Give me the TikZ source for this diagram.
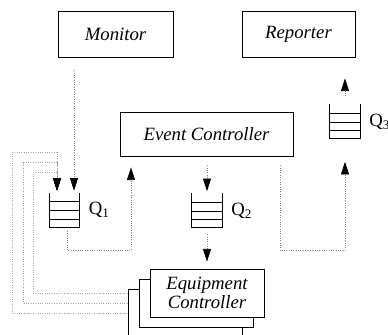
\documentclass[tikz,border=0pt]{standalone}
\usepackage{fontspec}
\setmainfont{Liberation Serif}
\usepackage{tikz}
\usetikzlibrary{arrows.meta,calc,positioning}
\tikzset{
  flow/.style={-{Triangle[length=3.8mm,width=2.4mm,color=black]},line width=0.6pt,
    draw=black!50,dash pattern=on 0.7pt off 1.3pt},
  backflow/.style={flow,draw=black!35},
  unit/.style={draw,line width=0.7pt,fill=white,align=center,inner sep=1pt,
    font=\fontsize{16}{16.5}\selectfont\itshape},
  queue/.style={minimum width=0.9cm,minimum height=1.02cm,inner sep=0pt},
  qlabel/.style={font=\fontsize{16}{19}\selectfont,label distance=1.5mm},
}

\begin{document}
\begin{tikzpicture}[x=0.03cm,y=-0.03cm]
    \useasboundingbox (0,0) rectangle (388,335);
    \clip (0,0) rectangle (388,335);

    \node[unit,minimum width=3.45cm,minimum height=1.38cm] (monitor) at (115.5,34) {Monitor};
    \node[unit,minimum width=3.39cm,minimum height=1.38cm] (reporter) at (298.5,34) {Reporter};
    \node[unit,minimum width=5.19cm,minimum height=1.32cm] (event) at (206.5,134) {Event Controller};

    % equipment controllers, stacked back to front
    \node[unit,minimum width=3.42cm,minimum height=1.44cm] (eqc3) at (185,313) {};
    \node[unit,minimum width=3.42cm,minimum height=1.44cm] (eqc2) at (196,303) {};
    \node[unit,minimum width=3.42cm,minimum height=1.44cm] (eqc) at (207,293) {Equipment\\Controller};

    \node[queue,label={[qlabel]right:Q\textsubscript{1}}] (q1) at (64.5,210) {};
    \node[queue,label={[qlabel]right:Q\textsubscript{2}}] (q2) at (207,210.5) {};
    \node[queue,label={[qlabel]right:Q\textsubscript{3}}] (q3) at (345,121.5) {};

    \foreach \q in {q1,q2,q3}{
      \draw[line width=0.7pt] (\q.north west) -- (\q.south west) -- (\q.south east) -- (\q.north east);
      \foreach \f in {0.265,0.515,0.765}
        \draw[line width=0.7pt] ($(\q.north west)!\f!(\q.south west)$) -- ($(\q.north east)!\f!(\q.south east)$);
    }

    \coordinate (q1r) at ([shift={(9.5,0)}]q1.north);
    \coordinate (q1l) at ([shift={(-7.5,0)}]q1.north);

    \draw[flow,shorten <=0.39cm,shorten >=0.06cm] (monitor.south -| q1r) -- (q1r);
    \draw[flow,shorten <=0.1cm,shorten >=0.33cm] ([shift={(2.5,0)}]q1.south) -- ++(0,23) -| ([shift={(-75.5,0)}]event.south);
    \draw[flow,shorten <=0.27cm,shorten >=0.06cm] (event.south -| q2.north) -- (q2.north);
    \draw[flow,shorten <=0.2cm,shorten >=0.21cm] (q2.south) -- (eqc.north);
    \draw[flow,shorten <=0.27cm,shorten >=0.69cm] ([shift={(73.5,0)}]event.south) -- ++(0,94) -| (q3.south);
    \draw[flow,shorten <=0.24cm,shorten >=0.63cm] (q3.north) -- (reporter.south -| q3.north);

    % feedback from the equipment controllers
    \foreach \b/\x/\t in {eqc/33/172,eqc2/23/162,eqc3/12/152}
      \draw[backflow,shorten >=0.06cm] (eqc3.west |- \b.west) -| (\x,\t) -| (q1l);
  \end{tikzpicture}
\end{document}
